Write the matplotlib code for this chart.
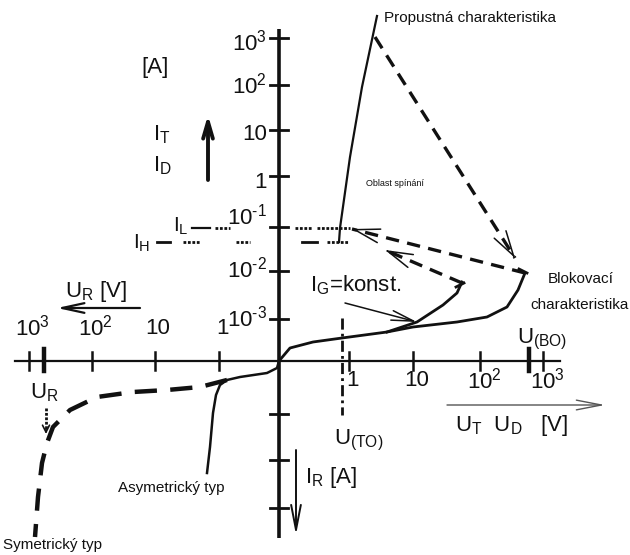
import numpy as np
import matplotlib.pyplot as plt

# diagram units: 1 unit = 1 px, origin where the U and I axes cross
y_pos_ticks = [323, 276, 231, 185, 134, 90, 42]
y_pos_labels = ['$10^{3}$', '$10^{2}$', '10', '1', r'$10^{\text{-}1}$', r'$10^{\text{-}2}$', r'$10^{\text{-}3}$']
y_pos_label_y = [318, 275, 226, 179, 144, 91, 42]
y_neg_ticks = [-53, -99, -147]

x_pos_ticks = [70, 134, 201, 264]
x_pos_labels = ['1', '10', '$10^{2}$', '$10^{3}$']
x_neg_ticks = [-60, -124, -187, -250]
x_neg_labels = ['1', '10', '$10^{2}$', '$10^{3}$']
u_bo_tick = 250
u_r_tick = -235

# blocking characteristic (forward off-state)
blocking = [(0, 0), (11, 13), (34, 19), (63, 23), (108, 29), (134, 34),
            (178, 39), (208, 44), (228, 54), (239, 71), (246, 88)]
# branch for a constant gate current
gate_branch = [(108, 29), (138, 39), (164, 56), (178, 68), (183, 79)]
# on-state characteristic
forward = [(60, 119), (61, 133), (71, 204), (83, 274), (98, 345)]
# reverse characteristics
asym = [(0, 0), (-2, -7), (-12, -12), (-39, -16), (-52, -19), (-59, -24),
        (-63, -34), (-66, -52), (-69, -86), (-72, -112)]
sym = [(-52, -19), (-79, -26), (-112, -29), (-146, -31), (-182, -36), (-209, -49),
       (-226, -66), (-232, -82), (-237, -102), (-241, -136), (-244, -176)]

# switching paths (dashed, with arrowheads)
switch_paths = [
    [(96, 324), (236, 103)],
    [(246, 88), (73, 132)],
    [(183, 78), (106, 111)],
]

i_l_level = 133
i_h_level = 119
u_to_x = 63

plt.rcParams['font.family'] = ['Liberation Sans', 'DejaVu Sans']
plt.rcParams['mathtext.fontset'] = 'custom'
plt.rcParams['mathtext.rm'] = 'Liberation Sans'
plt.rcParams['mathtext.it'] = 'Liberation Sans'
plt.rcParams['mathtext.default'] = 'rm'

fig = plt.figure(figsize=(6.3, 5.55), dpi=100)
ax = fig.add_axes([0, 0, 1, 1])
ax.set_xlim(-279, 351)
ax.set_ylim(-194, 361)
ax.axis('off')

ink = '#111111'
narrow = ['Liberation Sans Narrow', 'Liberation Sans']

# axes
ax.plot([0, 0], [332, -177], color=ink, lw=2.6, solid_capstyle='butt')
ax.plot([-264, 281], [0, 0], color=ink, lw=1.6)
for y in y_pos_ticks + y_neg_ticks:
    ax.plot([-9, 9], [y, y], color=ink, lw=2)
for x in x_pos_ticks + x_neg_ticks:
    ax.plot([x, x], [-9, 9], color=ink, lw=1.8)
for x in (u_bo_tick, u_r_tick):
    ax.plot([x, x], [-10, 12], color=ink, lw=3.2)

for y, ly, lab in zip(y_pos_ticks, y_pos_label_y, y_pos_labels):
    ax.text(-12, ly, lab, ha='right', va='center', fontsize=16, color=ink)
for x, lab in zip(x_pos_ticks, x_pos_labels):
    ax.text(x + 4, -20, lab, ha='center', va='center', fontsize=16, color=ink)
for x, lab in zip(x_neg_ticks, x_neg_labels):
    ax.text(x + 3, 33, lab, ha='center', va='center', fontsize=16, color=ink)

def xy(pts):
    a = np.array(pts, dtype=float)
    return a[:, 0], a[:, 1]

# characteristics
ax.plot(*xy(blocking), color=ink, lw=2, solid_capstyle='round')
ax.plot(*xy(gate_branch), color=ink, lw=2)
ax.plot(*xy(forward), color=ink, lw=1.6)
ax.plot(*xy(asym), color=ink, lw=1.8)
ax.plot(*xy(sym), color=ink, lw=3.2, dashes=(5, 3), dash_capstyle='butt')

for (x0, y0), (x1, y1) in switch_paths:
    ax.plot([x0, x1], [y0, y1], color=ink, lw=2.4, dashes=(4, 2.5))
    d = np.hypot(x1 - x0, y1 - y0)
    ux, uy = (x1 - x0) / d, (y1 - y0) / d
    ax.annotate('', xy=(x1, y1), xytext=(x1 - 3 * ux, y1 - 3 * uy),
                arrowprops=dict(arrowstyle='->,head_length=1.8,head_width=0.5',
                                lw=1.1, color=ink, shrinkA=0, shrinkB=0))
# caps at the turning points
ax.plot([240, 248], [92, 88], color=ink, lw=2)
ax.plot([177, 185], [74, 78], color=ink, lw=2)

# latching and holding current levels
dots = (0, (1, 0.6))
ax.plot([-87, -69], [i_l_level, i_l_level], color=ink, lw=1.6)
ax.plot([-64, -49], [i_l_level, i_l_level], color=ink, lw=2, ls=dots)
ax.plot([16, 33], [i_l_level, i_l_level], color=ink, lw=2, ls=dots)
ax.plot([38, 71], [i_l_level, i_l_level], color=ink, lw=2, ls=dots)
ax.plot([-122, -109], [i_h_level, i_h_level], color=ink, lw=2)
ax.plot([-96, -79], [i_h_level, i_h_level], color=ink, lw=2, ls=dots)
ax.plot([-43, -29], [i_h_level, i_h_level], color=ink, lw=2, ls=dots)
ax.plot([23, 38], [i_h_level, i_h_level], color=ink, lw=2)
ax.plot([48, 69], [i_h_level, i_h_level], color=ink, lw=2, ls=dots)

# threshold voltage marker
ax.plot([u_to_x, u_to_x], [43, -54], color=ink, lw=2, ls=(0, (4, 1.5, 1, 1.5)))
# reverse breakdown marker
ax.plot([-233, -233], [-47, -69], color=ink, lw=2, ls=dots)
ax.annotate('', xy=(-233, -73), xytext=(-233, -68),
            arrowprops=dict(arrowstyle='->,head_length=0.5,head_width=0.25',
                            lw=1.2, color=ink, shrinkA=0, shrinkB=0))

# axis direction arrows
arrow_kw = dict(color=ink, shrinkA=0, shrinkB=0)
ax.annotate('', xy=(-71, 246), xytext=(-71, 181),
            arrowprops=dict(arrowstyle='->,head_length=1.2,head_width=0.35', lw=2.8, **arrow_kw))
ax.annotate('', xy=(-222, 53), xytext=(-139, 53),
            arrowprops=dict(arrowstyle='->,head_length=1.6,head_width=0.35', lw=1.6, **arrow_kw))
ax.annotate('', xy=(326, -44), xytext=(168, -44),
            arrowprops=dict(arrowstyle='->,head_length=1.8,head_width=0.35', lw=1,
                            color='#555555', shrinkA=0, shrinkB=0))
ax.annotate('', xy=(17, -174), xytext=(17, -89),
            arrowprops=dict(arrowstyle='->,head_length=1.8,head_width=0.35', lw=1.4, **arrow_kw))
ax.annotate('', xy=(138, 39), xytext=(66, 58),
            arrowprops=dict(arrowstyle='->,head_length=1.6,head_width=0.35', lw=1.1, **arrow_kw))

# labels
ax.text(-124, 293, '[A]', ha='center', va='center', fontsize=16, color=ink)
ax.text(-126, 226, 'I$_{T}$', ha='left', va='center', fontsize=16, color=ink)
ax.text(-126, 195, 'I$_{D}$', ha='left', va='center', fontsize=16, color=ink)
ax.text(-146, 118, 'I$_{H}$', ha='left', va='center', fontsize=15, color=ink)
ax.text(-106, 135, 'I$_{L}$', ha='left', va='center', fontsize=15, color=ink)
ax.text(-214, 70, 'U$_{R}$ [V]', ha='left', va='center', fontsize=16, color=ink)
ax.text(-249, -32, 'U$_{R}$', ha='left', va='center', fontsize=16, color=ink)
ax.text(238, 22, 'U$_{(BO)}$', ha='left', va='center', fontsize=16, color=ink)
ax.text(176, -64, 'U$_{T}$  U$_{D}$   [V]', ha='left', va='center', fontsize=16, color=ink)
ax.text(55, -79, 'U$_{(TO)}$', ha='left', va='center', fontsize=16, color=ink)
ax.text(26, -117, 'I$_{R}$ [A]', ha='left', va='center', fontsize=16, color=ink)
ax.text(31, 76, 'I$_{G}$=konst.', ha='left', va='center', fontsize=16, color=ink)
ax.text(87, 178, 'Oblast spínání', ha='left', va='center', fontsize=6.5, color=ink)
ax.text(105, 343, 'Propustná charakteristika', ha='left', va='center',
        fontsize=11, color=ink, family=narrow)
ax.text(269, 82, 'Blokovací', ha='left', va='center', fontsize=11, color=ink, family=narrow)
ax.text(251, 56, 'charakteristika', ha='left', va='center', fontsize=11, color=ink, family=narrow)
ax.text(-161, -127, 'Asymetrický typ', ha='left', va='center', fontsize=11, color=ink, family=narrow)
ax.text(-276, -184, 'Symetrický typ', ha='left', va='center', fontsize=11, color=ink, family=narrow)

fig.savefig('out.png', dpi=100)
